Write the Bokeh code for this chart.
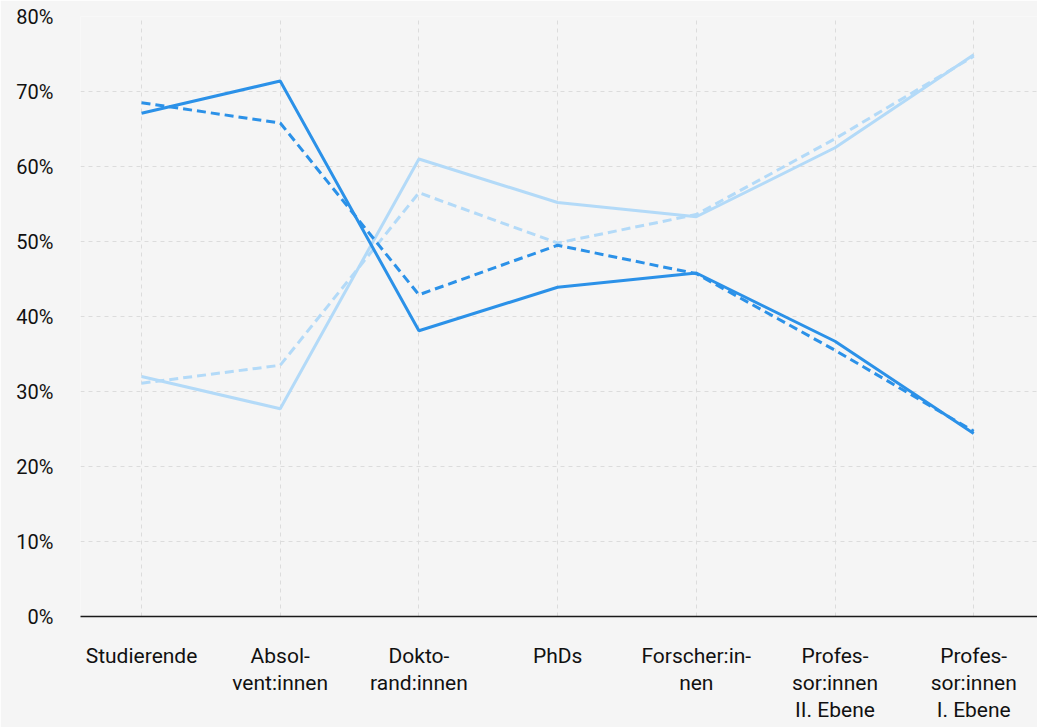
from bokeh.plotting import figure
from bokeh.models import Range1d, FixedTicker
from bokeh.embed import file_html
from bokeh.resources import INLINE

categories = ["Studierende", "Absol-\nvent:innen", "Dokto-\nrand:innen", "PhDs",
              "Forscher:in-\nnen", "Profes-\nsor:innen\nII. Ebene", "Profes-\nsor:innen\nI. Ebene"]
y_ticks = [0, 10, 20, 30, 40, 50, 60, 70, 80]
y_labels = ["0%", "10%", "20%", "30%", "40%", "50%", "60%", "70%", "80%"]

dark_solid = [67.1, 71.4, 38.1, 43.9, 45.8, 36.7, 24.4]
dark_dashed = [68.5, 65.8, 42.9, 49.5, 45.7, 35.5, 24.7]
light_solid = [32.0, 27.7, 61.0, 55.2, 53.3, 62.5, 74.9]
light_dashed = [31.1, 33.5, 56.5, 49.8, 53.6, 63.7, 74.7]

DARK = "#2B91E8"
LIGHT = "#B3DAF8"
BG = "#F5F5F5"
FONT = "Roboto"

xs = list(range(len(categories)))

p = figure(width=1037, height=727, output_backend="svg", toolbar_location=None,
           x_range=Range1d(-0.44, 6.46), y_range=Range1d(0, 80),
           min_border_left=80, min_border_top=16, min_border_right=0, min_border_bottom=111)
p.background_fill_color = BG
p.border_fill_color = BG
p.outline_line_color = None

p.line(xs, light_solid, line_color=LIGHT, line_width=3)
p.line(xs, light_dashed, line_color=LIGHT, line_width=3, line_dash="9 5")
p.line(xs, dark_dashed, line_color=DARK, line_width=3, line_dash="9 5")
p.line(xs, dark_solid, line_color=DARK, line_width=3)

# axes
p.xaxis.ticker = FixedTicker(ticks=xs)
p.xaxis.major_label_overrides = {i: c for i, c in enumerate(categories)}
p.yaxis.ticker = FixedTicker(ticks=y_ticks)
p.yaxis.major_label_overrides = {t: l for t, l in zip(y_ticks, y_labels)}

for ax in (p.xaxis, p.yaxis):
    ax.major_tick_in = 0
    ax.major_tick_out = 0
    ax.minor_tick_in = 0
    ax.minor_tick_out = 0
    ax.major_label_text_font = FONT
    ax.major_label_text_color = "#111111"

p.yaxis.major_label_text_font_size = "20px"
p.xaxis.major_label_text_font_size = "21px"
p.xaxis.axis_line_color = "#1a1a1a"
p.xaxis.axis_line_width = 1.5
p.xaxis.major_label_standoff = 27
p.xaxis.major_label_text_line_height = 1.14
p.yaxis.axis_line_color = None
p.yaxis.major_label_standoff = 27

p.xgrid.ticker = FixedTicker(ticks=xs)
p.ygrid.ticker = FixedTicker(ticks=y_ticks)
for g in (p.xgrid, p.ygrid):
    g.grid_line_color = "#DCDCDC"
    g.grid_line_width = 1
    g.grid_line_dash = "4 4"

with open("out.html", "w") as f:
    f.write(file_html(p, INLINE))
